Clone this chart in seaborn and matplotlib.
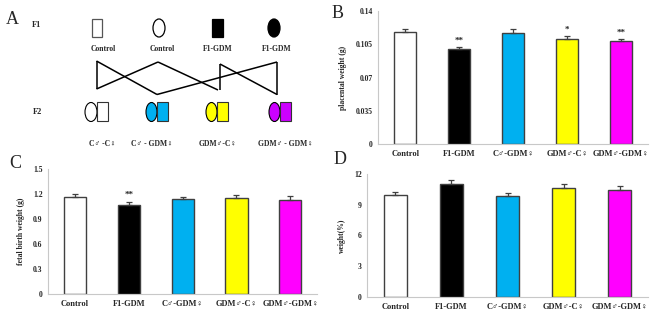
import numpy as np
import matplotlib
matplotlib.use("Agg")
import matplotlib.pyplot as plt
import seaborn as sns
from matplotlib.patches import Rectangle, Ellipse

# --- data ---
groups = ["Control", "F1-GDM", "C♂-GDM♀", "GDM♂-C♀", "GDM♂-GDM♀"]
bar_colors = ["#FFFFFF", "#000000", "#00B0F0", "#FFFF00", "#FF00FF"]

placental = [0.1176, 0.0997, 0.1172, 0.1102, 0.1088]
placental_err = [0.0034, 0.0027, 0.0035, 0.0035, 0.0017]
placental_stars = ["", "**", "", "*", "**"]

fetal = [1.156, 1.064, 1.132, 1.144, 1.124]
fetal_err = [0.040, 0.036, 0.032, 0.036, 0.044]
fetal_stars = ["", "**", "", "", ""]

ratio = [9.92, 11.0, 9.82, 10.63, 10.41]
ratio_err = [0.35, 0.41, 0.36, 0.42, 0.42]

f1_labels = ["Control", "Control", "F1-GDM", "F1-GDM"]
f2_labels = ["C♂ -C♀", "C♂ - GDM♀", "GDM♂-C♀", "GDM♂ - GDM♀"]

sns.set_style("white")
plt.rcParams["font.family"] = ["Liberation Serif", "DejaVu Serif"]
plt.rcParams["font.weight"] = "bold"

fig = plt.figure(figsize=(6.5, 3.18), dpi=100)

EDGE = "#404040"
TICK_FS = 5.5


def bar_panel(rect, vals, errs, ylim, yticks, ylabel, stars=None, star_gap=0.0):
    ax = fig.add_axes(rect)
    sns.barplot(x=groups, y=vals, hue=groups, palette=bar_colors, legend=False,
                saturation=1, width=0.41, edgecolor=EDGE, linewidth=1.0, ax=ax)
    xs = np.arange(len(groups))
    ax.errorbar(xs, vals, yerr=[np.zeros(len(vals)), errs], fmt="none",
                ecolor=EDGE, elinewidth=0.9, capsize=2.2, capthick=0.9)
    if stars:
        for x, v, e, s in zip(xs, vals, errs, stars):
            if s:
                ax.text(x, v + e + star_gap, s, ha="center", va="bottom",
                        fontsize=6.5, fontweight="bold")
    ax.set_xlim(-0.5, len(groups) - 0.5)
    ax.set_ylim(*ylim)
    ax.set_yticks(yticks)
    ax.set_yticklabels([f"{t:g}" for t in yticks], fontsize=TICK_FS, fontweight="bold")
    ax.set_xticks(xs)
    ax.set_xticklabels(groups, fontsize=TICK_FS + 0.5, fontweight="bold")
    ax.tick_params(length=0, pad=4)
    ax.set_ylabel(ylabel, fontsize=TICK_FS, fontweight="bold", labelpad=6)
    ax.set_xlabel("")
    for side in ["top", "right"]:
        ax.spines[side].set_visible(False)
    for side in ["left", "bottom"]:
        ax.spines[side].set_color("#C8C8C8")
        ax.spines[side].set_linewidth(0.8)
    return ax


# B
bar_panel([0.582, 0.547, 0.415, 0.418], placental, placental_err, (0, 0.14),
          [0, 0.035, 0.07, 0.105, 0.14], "placental weight (g)",
          stars=placental_stars, star_gap=0.002)
# C
bar_panel([0.074, 0.0755, 0.414, 0.394], fetal, fetal_err, (0, 1.5),
          [0, 0.3, 0.6, 0.9, 1.2, 1.5], "fetal birth weight (g)",
          stars=fetal_stars, star_gap=0.04)
# D
bar_panel([0.565, 0.066, 0.432, 0.387], ratio, ratio_err, (0, 12),
          [0, 3, 6, 9, 12], "weight(%)")

# overlay in pixel coordinates for panel A and panel letters
ov = fig.add_axes([0, 0, 1, 1], zorder=-1)
ov.set_xlim(0, 650)
ov.set_ylim(318, 0)
ov.axis("off")

for txt, (x, y) in zip("ABCD", [(12, 20), (338, 13), (15, 163), (340, 160)]):
    ov.text(x, y, txt, fontsize=13, fontweight="normal", ha="center", va="center")

ov.text(37, 25, "F1", fontsize=6, fontweight="bold", ha="center", va="center")
ov.text(37, 112, "F2", fontsize=6, fontweight="bold", ha="center", va="center")

# F1 symbols
ov.add_patch(Rectangle((92, 19), 10, 18, facecolor="white", edgecolor="#555555", lw=0.9))
ov.add_patch(Ellipse((159, 28), 12, 18, facecolor="white", edgecolor="black", lw=0.9))
ov.add_patch(Rectangle((212, 19), 11, 18, facecolor="black", edgecolor="black", lw=0.9))
ov.add_patch(Ellipse((274, 28), 12, 18, facecolor="black", edgecolor="black", lw=0.9))
for x, lab in zip([103, 162, 218, 277], f1_labels):
    ov.text(x, 49, lab, fontsize=5.5, fontweight="bold", ha="center", va="center")

# cross lines
segs = [((96.5, 61), (96.5, 89)), ((96.5, 61), (157, 94.5)), ((96.5, 89), (158, 62)),
        ((158, 62), (218, 90)), ((157, 94.5), (277, 62)), ((220, 64), (220, 90)),
        ((220, 64), (277, 94.5)), ((277, 62), (277, 94.5))]
for (x0, y0), (x1, y1) in segs:
    ov.plot([x0, x1], [y0, y1], color="black", lw=1.1, solid_capstyle="butt")

# F2 symbols
f2_pos = [(85, 97), (146, 157), (206, 217), (269, 280)]
f2_cols = ["#FFFFFF", "#00B0F0", "#FFFF00", "#CC00FF"]
for (ox, rx), c in zip(f2_pos, f2_cols):
    ov.add_patch(Ellipse(((ox + rx) / 2, 112), rx - ox, 19, facecolor=c,
                         edgecolor="black", lw=0.8))
    ov.add_patch(Rectangle((rx, 102), 10.5, 19, facecolor=c, edgecolor="#333333", lw=0.8))
for x, lab in zip([102, 152, 218, 286], f2_labels):
    ov.text(x, 144, lab, fontsize=5.5, fontweight="bold", ha="center", va="center")

fig.savefig("out.png", dpi=100)
